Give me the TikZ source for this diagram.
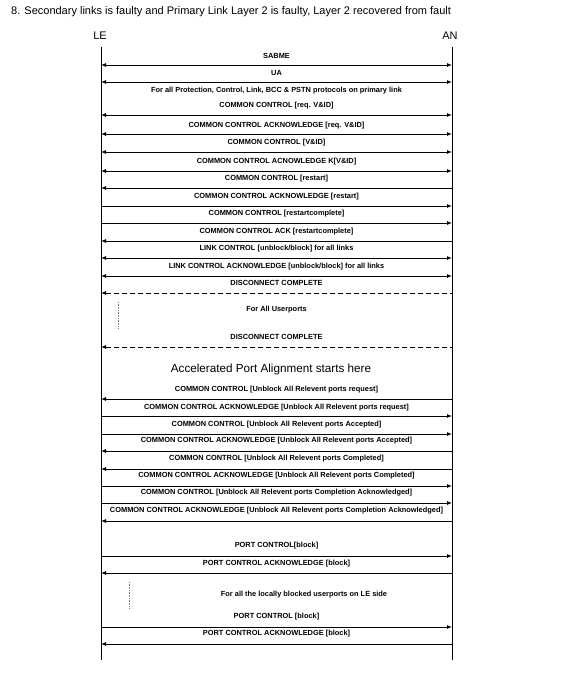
\documentclass[tikz,border=0pt]{standalone}
\usepackage{fontspec}
\setmainfont{Liberation Sans}
\usetikzlibrary{arrows.meta}
\tikzset{
  lbl/.style={font=\fontsize{7.4}{8}\selectfont\bfseries, inner sep=0pt, anchor=center},
  msgline/.style={line width=0.9pt},
  both/.style={msgline, {Latex[length=5pt,width=4pt]}-{Latex[length=5pt,width=4pt]}},
  toLE/.style={msgline, {Latex[length=5pt,width=4pt]}-},
  toAN/.style={msgline, -{Latex[length=5pt,width=4pt]}},
  dashmsg/.style={msgline, dash pattern=on 5pt off 3pt, {Latex[length=5pt,width=4pt]}-},
  lifeline/.style={line width=0.9pt},
  dotv/.style={line width=0.5pt, gray, dash pattern=on 0.8pt off 0.8pt},
  party/.style={font=\fontsize{11}{13}\selectfont, inner sep=0pt},
}
\newcommand\msg[5]{%
  \node[lbl] (t#1) at (276.5,#2) {#5};
  \coordinate (l#1) at (101,#3);
  \coordinate (r#1) at (452,#3);
  \draw[#4] (l#1) -- (r#1);}
\begin{document}
\begin{tikzpicture}[x=1pt,y=-1pt]
\useasboundingbox (0,0) rectangle (577,674);
\node[anchor=west, font=\fontsize{11}{13}\selectfont, inner sep=0pt] (title) at (11,12)
  {8. Secondary links is faulty and Primary Link Layer 2 is faulty, Layer 2 recovered from fault};
\node[party] (LE) at (100,36) {LE};
\node[party] (AN) at (450,36) {AN};
\coordinate (LEtop) at (101,47); \coordinate (LEbot) at (101,660);
\coordinate (ANtop) at (452,47); \coordinate (ANbot) at (452,660);
\draw[lifeline] (LEtop) -- (LEbot);
\draw[lifeline] (ANtop) -- (ANbot);

\msg{a}{56}{65}{both}{SABME}
\msg{b}{73}{82}{both}{UA}
\node[lbl] (tc) at (276.5,91) {For all Protection, Control, Link, BCC \& PSTN protocols on primary link};
\msg{d}{106}{115}{both}{COMMON CONTROL [req. V\&ID]}
\msg{e}{126}{134}{both}{COMMON CONTROL ACKNOWLEDGE [req. V\&ID]}
\msg{f}{143}{152}{both}{COMMON CONTROL [V\&ID]}
\msg{g}{162}{171}{both}{COMMON CONTROL ACNOWLEDGE K[V\&ID]}
\msg{h}{179}{188}{toLE}{COMMON CONTROL [restart]}
\msg{i}{197}{206}{toAN}{COMMON CONTROL ACKNOWLEDGE [restart]}
\msg{j}{214}{223}{toAN}{COMMON CONTROL [restartcomplete]}
\msg{k}{232}{241}{toLE}{COMMON CONTROL ACK [restartcomplete]}
\msg{m}{249}{258}{both}{LINK CONTROL [unblock/block] for all links}
\msg{n}{267}{276}{both}{LINK CONTROL ACKNOWLEDGE [unblock/block] for all links}
\msg{o}{283}{293}{dashmsg}{DISCONNECT COMPLETE}
\node[lbl] (tp) at (276.5,310) {For All Userports};
\coordinate (dv1a) at (118,302); \coordinate (dv1b) at (118,328);
\draw[dotv] (dv1a) -- (dv1b);
\msg{q}{337}{347}{dashmsg}{DISCONNECT COMPLETE}
\node[font=\fontsize{11.7}{13}\selectfont, inner sep=0pt] (tr) at (271,369) {Accelerated Port Alignment starts here};
\msg{s}{390}{399}{toLE}{COMMON CONTROL [Unblock All Relevent ports request]}
\msg{u}{408}{416}{toAN}{COMMON CONTROL ACKNOWLEDGE [Unblock All Relevent ports request]}
\msg{v}{425}{434}{toAN}{COMMON CONTROL [Unblock All Relevent ports Accepted]}
\msg{w}{441}{451}{toLE}{COMMON CONTROL ACKNOWLEDGE [Unblock All Relevent ports Accepted]}
\msg{x}{459}{469}{toLE}{COMMON CONTROL [Unblock All Relevent ports Completed]}
\msg{y}{476}{486}{toAN}{COMMON CONTROL ACKNOWLEDGE [Unblock All Relevent ports Completed]}
\msg{z}{493}{503}{toAN}{COMMON CONTROL [Unblock All Relevent ports Completion Acknowledged]}
\msg{aa}{511}{521}{toLE}{COMMON CONTROL ACKNOWLEDGE [Unblock All Relevent ports Completion Acknowledged]}
\msg{ab}{546}{556}{toAN}{PORT CONTROL[block]}
\msg{ac}{564}{573}{toLE}{PORT CONTROL ACKNOWLEDGE [block]}
\node[lbl] (tad) at (304,595) {For all the locally blocked userports on LE side};
\coordinate (dv2a) at (129,582); \coordinate (dv2b) at (129,608);
\draw[dotv] (dv2a) -- (dv2b);
\msg{ae}{617}{627}{toAN}{PORT CONTROL [block]}
\msg{af}{634}{644}{toLE}{PORT CONTROL ACKNOWLEDGE [block]}
\end{tikzpicture}
\end{document}
